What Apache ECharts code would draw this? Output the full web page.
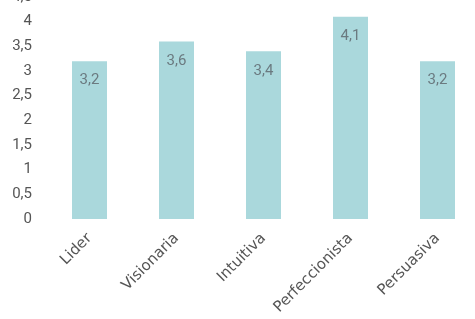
<!DOCTYPE html>
<html><head><meta charset="utf-8">
<script src="https://cdn.jsdelivr.net/npm/echarts@6/dist/echarts.min.js"></script>
<style>html,body{margin:0;padding:0;background:#fff}#c{width:475px;height:319px}</style>
</head><body><div id="c"></div>
<script>
const categories = ['Lider', 'Visionaria', 'Intuitiva', 'Perfeccionista', 'Persuasiva'];
const values = [3.2, 3.6, 3.4, 4.1, 3.2];
const yTicks = { min: 0, max: 4.5, interval: 0.5 };

const fmt = v => String(v).replace('.', ',');
const chart = echarts.init(document.getElementById('c'), null, { renderer: 'canvas' });
chart.setOption({
  animation: false,
  grid: { left: 46, top: -3, width: 435, height: 222, containLabel: false, outerBoundsMode: 'none' },
  xAxis: {
    type: 'category', data: categories,
    axisLine: { show: false }, axisTick: { show: false },
    axisLabel: { rotate: 45, color: '#555', fontSize: 15, fontFamily: 'DejaVu Sans', margin: 17 }
  },
  yAxis: {
    type: 'value', min: yTicks.min, max: yTicks.max, interval: yTicks.interval,
    axisLine: { show: false }, axisTick: { show: false }, splitLine: { show: false },
    axisLabel: { color: '#555', fontSize: 15, fontFamily: 'Roboto', margin: 14, formatter: fmt }
  },
  series: [{
    type: 'bar', data: values, barWidth: 35,
    itemStyle: { color: '#aad8dc' },
    label: { show: true, position: 'insideTop', distance: 12, color: '#6b7a80', fontSize: 15, fontFamily: 'Roboto', formatter: p => fmt(p.value) }
  }]
});
</script></body></html>
